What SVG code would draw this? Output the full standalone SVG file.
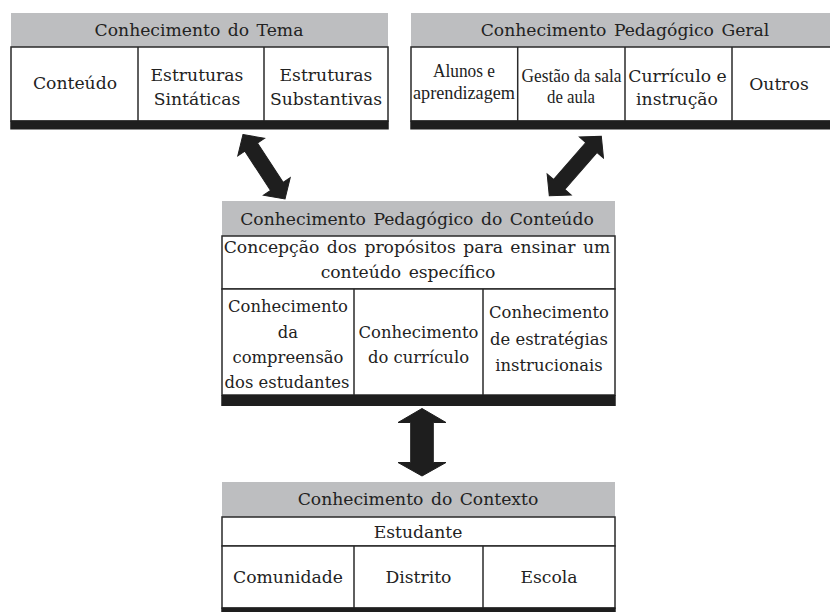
<svg xmlns="http://www.w3.org/2000/svg" width="830" height="612" viewBox="0 0 830 612">
<style>
.hd{fill:#bdbec0;}
.bd{fill:#ffffff;stroke:#2a2a2a;stroke-width:1.5;}
.dv{stroke:#2a2a2a;stroke-width:1.5;}
.bar{fill:#1e1e1e;}
.t{font-family:"DejaVu Serif","Liberation Serif",serif;font-size:17.2px;fill:#222;text-anchor:middle;}
.s{font-size:16.4px;}
.w{word-spacing:2px;}
.n{font-family:"Liberation Serif","Times New Roman",serif;font-size:18.5px;fill:#222;text-anchor:middle;}
.arr{fill:#1e1e1e;stroke:#1e1e1e;stroke-width:1;stroke-linejoin:miter;}
</style>
<rect width="830" height="612" fill="#fff"/>

<g id="tema">
<rect class="hd" x="11" y="13" width="377" height="34"/>
<rect class="bd" x="11" y="47" width="377" height="74"/>
<line class="dv" x1="138" y1="47" x2="138" y2="121"/>
<line class="dv" x1="264" y1="47" x2="264" y2="121"/>
<rect class="bar" x="10.25" y="120.5" width="378.5" height="9"/>
<text class="t w" x="199" y="36">Conhecimento do Tema</text>
<text class="t" x="75" y="89">Conteúdo</text>
<text class="t" x="197" y="81">Estruturas</text>
<text class="t" x="197" y="105">Sintáticas</text>
<text class="t" x="326" y="81">Estruturas</text>
<text class="t" x="326" y="105">Substantivas</text>
</g>

<g id="geral">
<rect class="hd" x="411" y="13" width="421" height="34"/>
<rect class="bd" x="411" y="47" width="421" height="74"/>
<line class="dv" x1="517.7" y1="47" x2="517.7" y2="121"/>
<line class="dv" x1="625" y1="47" x2="625" y2="121"/>
<line class="dv" x1="732" y1="47" x2="732" y2="121"/>
<rect class="bar" x="410.25" y="120.5" width="421" height="9"/>
<text class="t w" x="625" y="36">Conhecimento Pedagógico Geral</text>
<text class="n" x="464" y="77" textLength="62" lengthAdjust="spacingAndGlyphs">Alunos e</text>
<text class="n" x="464" y="99" textLength="102" lengthAdjust="spacingAndGlyphs">aprendizagem</text>
<text class="n" x="571.5" y="82" textLength="100" lengthAdjust="spacingAndGlyphs">Gestão da sala</text>
<text class="n" x="571" y="103" textLength="48" lengthAdjust="spacingAndGlyphs">de aula</text>
<text class="t" x="677.5" y="82">Currículo e</text>
<text class="t" x="677" y="105">instrução</text>
<text class="t" x="779" y="90">Outros</text>
</g>

<g id="pck">
<rect class="hd" x="222" y="201" width="393" height="35"/>
<rect class="bd" x="222" y="236" width="393" height="53"/>
<rect class="bd" x="222" y="289" width="393" height="106"/>
<line class="dv" x1="354" y1="289" x2="354" y2="395"/>
<line class="dv" x1="483" y1="289" x2="483" y2="395"/>
<rect class="bar" x="221.25" y="395" width="394.5" height="11"/>
<text class="t w" x="417" y="225">Conhecimento Pedagógico do Conteúdo</text>
<text class="t w" x="417" y="253">Concepção dos propósitos para ensinar um</text>
<text class="t w" x="408" y="278">conteúdo específico</text>
<text class="t s" x="288" y="312">Conhecimento</text>
<text class="t s" x="288" y="338">da</text>
<text class="t s" x="288" y="363">compreensão</text>
<text class="t s" x="287" y="388">dos estudantes</text>
<text class="t s" x="418.5" y="338">Conhecimento</text>
<text class="t s" x="418.5" y="363">do currículo</text>
<text class="t s" x="549" y="318">Conhecimento</text>
<text class="t s" x="549" y="345">de estratégias</text>
<text class="t s" x="549" y="371">instrucionais</text>
</g>

<g id="contexto">
<rect class="hd" x="222" y="482" width="393" height="35"/>
<rect class="bd" x="222" y="517" width="393" height="29"/>
<rect class="bd" x="222" y="546" width="393" height="62"/>
<line class="dv" x1="354" y1="546" x2="354" y2="608"/>
<line class="dv" x1="483" y1="546" x2="483" y2="608"/>
<rect class="bar" x="221.25" y="607.5" width="394.5" height="6"/>
<text class="t w" x="418" y="505">Conhecimento do Contexto</text>
<text class="t" x="418" y="538">Estudante</text>
<text class="t" x="288" y="583">Comunidade</text>
<text class="t" x="418.5" y="583">Distrito</text>
<text class="t" x="549" y="583">Escola</text>
</g>

<g id="connectors">
<path class="arr" transform="translate(264,166.75) rotate(56.9)" d="M -38.5,0 L -23.5,-16 L -23.5,-7.5 L 23.5,-7.5 L 23.5,-16 L 38.5,0 L 23.5,16 L 23.5,7.5 L -23.5,7.5 L -23.5,16 Z"/>
<path class="arr" transform="translate(575.3,166) rotate(-48.8)" d="M -39.5,0 L -24.5,-16 L -24.5,-7.5 L 24.5,-7.5 L 24.5,-16 L 39.5,0 L 24.5,16 L 24.5,7.5 L -24.5,7.5 L -24.5,16 Z"/>
<path class="arr" d="M 422,408.5 L 446,422.5 L 433.3,422.5 L 433.3,462.5 L 446,462.5 L 422,476 L 398,462.5 L 410.7,462.5 L 410.7,422.5 L 398,422.5 Z"/>
</g>
</svg>
